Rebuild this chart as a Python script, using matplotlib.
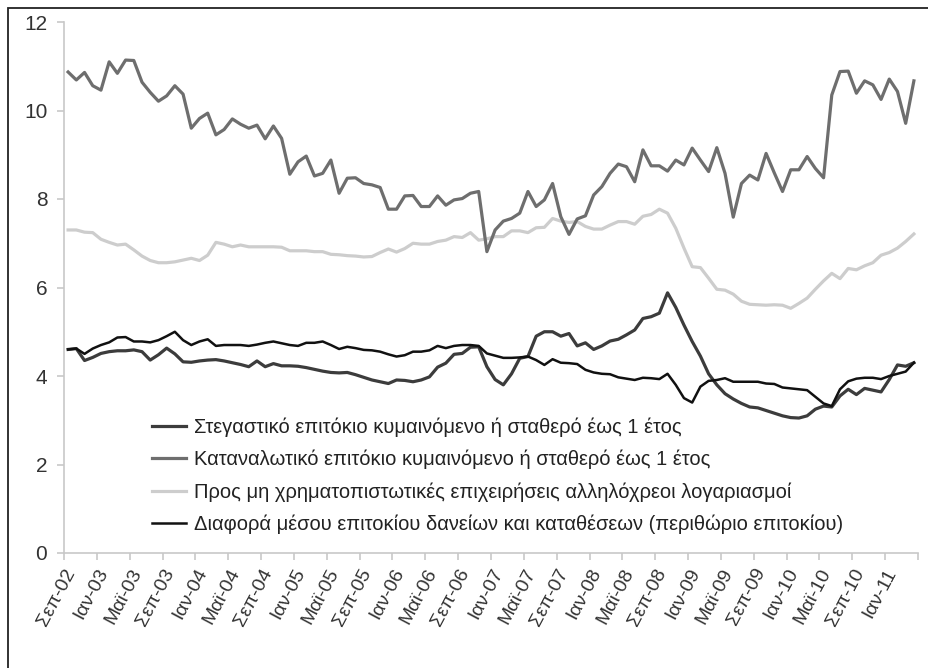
import numpy as np
import matplotlib
matplotlib.use("Agg")
import matplotlib.pyplot as plt
from matplotlib.patches import Rectangle

plt.rcParams["font.family"] = ["Liberation Sans", "DejaVu Sans"]

# μηνιαία στοιχεία Σεπ-02 έως Απρ-11 (104 μήνες)
months = ["Σεπ", "Ιαν", "Μαϊ"]
tick_labels = []
for k in range(26):
    yr = 2 + (k + 2) // 3
    tick_labels.append(f"{months[k % 3]}-{yr:02d}")

consumer = [10.87, 10.69, 10.86, 10.56, 10.46, 11.10, 10.84, 11.14, 11.13, 10.64,
            10.41, 10.21, 10.33, 10.56, 10.37, 9.60, 9.82, 9.94, 9.45, 9.57,
            9.81, 9.69, 9.60, 9.67, 9.36, 9.65, 9.37, 8.56, 8.84, 8.97,
            8.52, 8.58, 8.88, 8.13, 8.47, 8.48, 8.35, 8.32, 8.26, 7.77,
            7.77, 8.07, 8.08, 7.83, 7.83, 8.07, 7.86, 7.98, 8.01, 8.13,
            8.17, 6.81, 7.30, 7.50, 7.56, 7.68, 8.17, 7.83, 7.98, 8.35,
            7.60, 7.20, 7.55, 7.62, 8.09, 8.28, 8.58, 8.79, 8.73, 8.39,
            9.11, 8.75, 8.75, 8.63, 8.88, 8.77, 9.15, 8.88, 8.62, 9.16,
            8.58, 7.59, 8.35, 8.54, 8.43, 9.03, 8.59, 8.17, 8.66, 8.66,
            8.96, 8.69, 8.48, 10.35, 10.88, 10.89, 10.39, 10.67, 10.58, 10.25,
            10.71, 10.43, 9.71, 10.67]

business = [7.30, 7.30, 7.25, 7.24, 7.09, 7.02, 6.96, 6.98, 6.85, 6.71,
            6.61, 6.56, 6.56, 6.58, 6.62, 6.66, 6.61, 6.73, 7.02, 6.98,
            6.92, 6.96, 6.92, 6.92, 6.92, 6.92, 6.91, 6.83, 6.83, 6.83,
            6.81, 6.81, 6.75, 6.74, 6.72, 6.71, 6.69, 6.70, 6.79, 6.87,
            6.80, 6.88, 7.00, 6.98, 6.98, 7.04, 7.07, 7.15, 7.13, 7.24,
            7.07, 7.10, 7.15, 7.15, 7.28, 7.28, 7.24, 7.35, 7.36, 7.56,
            7.50, 7.47, 7.49, 7.38, 7.32, 7.32, 7.41, 7.49, 7.49, 7.43,
            7.61, 7.65, 7.77, 7.68, 7.34, 6.89, 6.47, 6.45, 6.21, 5.96,
            5.94, 5.85, 5.69, 5.62, 5.61, 5.60, 5.61, 5.60, 5.53, 5.64,
            5.76, 5.96, 6.15, 6.32, 6.20, 6.43, 6.40, 6.49, 6.56, 6.73,
            6.79, 6.89, 7.04, 7.21]

housing = [4.60, 4.62, 4.35, 4.42, 4.51, 4.55, 4.57, 4.57, 4.59, 4.55,
           4.36, 4.48, 4.63, 4.50, 4.32, 4.31, 4.34, 4.36, 4.37, 4.34,
           4.30, 4.26, 4.21, 4.34, 4.21, 4.28, 4.23, 4.23, 4.22, 4.19,
           4.15, 4.11, 4.08, 4.07, 4.08, 4.03, 3.97, 3.91, 3.87, 3.83,
           3.91, 3.90, 3.87, 3.91, 3.98, 4.20, 4.29, 4.49, 4.51, 4.65,
           4.66, 4.21, 3.92, 3.80, 4.05, 4.40, 4.44, 4.90, 5.00, 5.00,
           4.90, 4.96, 4.68, 4.75, 4.60, 4.68, 4.79, 4.83, 4.93, 5.04,
           5.30, 5.34, 5.42, 5.88, 5.55, 5.15, 4.78, 4.45, 4.05, 3.80,
           3.60, 3.48, 3.38, 3.30, 3.28, 3.22, 3.16, 3.10, 3.06, 3.05,
           3.10, 3.25, 3.32, 3.30, 3.55, 3.70, 3.58, 3.72, 3.68, 3.64,
           3.92, 4.25, 4.22, 4.30]

spread = [4.60, 4.62, 4.50, 4.62, 4.70, 4.76, 4.87, 4.88, 4.78, 4.78,
          4.76, 4.81, 4.90, 5.00, 4.81, 4.70, 4.78, 4.83, 4.68, 4.70,
          4.70, 4.70, 4.68, 4.71, 4.75, 4.78, 4.74, 4.70, 4.68, 4.75,
          4.75, 4.78, 4.70, 4.61, 4.66, 4.63, 4.59, 4.58, 4.55, 4.49,
          4.44, 4.47, 4.55, 4.55, 4.58, 4.68, 4.63, 4.68, 4.70, 4.70,
          4.68, 4.51, 4.46, 4.41, 4.41, 4.42, 4.44, 4.36, 4.25, 4.38,
          4.30, 4.29, 4.27, 4.14, 4.08, 4.05, 4.04, 3.97, 3.94, 3.91,
          3.96, 3.95, 3.93, 4.05, 3.80, 3.50, 3.40, 3.76, 3.89, 3.91,
          3.95, 3.87, 3.87, 3.87, 3.87, 3.83, 3.82, 3.74, 3.72, 3.70,
          3.68, 3.53, 3.38, 3.32, 3.70, 3.88, 3.94, 3.96, 3.96, 3.93,
          4.00, 4.05, 4.10, 4.30]

labels = [
    "Στεγαστικό επιτόκιο κυμαινόμενο ή σταθερό έως 1 έτος",
    "Καταναλωτικό επιτόκιο κυμαινόμενο ή σταθερό έως 1 έτος",
    "Προς μη χρηματοπιστωτικές επιχειρήσεις αλληλόχρεοι λογαριασμοί",
    "Διαφορά μέσου επιτοκίου δανείων και καταθέσεων (περιθώριο επιτοκίου)",
]

x = np.arange(len(consumer))

fig = plt.figure(figsize=(9.29, 6.68), dpi=100)
ax = fig.add_axes([64 / 929, 1 - 553 / 668, 854 / 929, 531 / 668])

ax.plot(x, housing, color="#3c3c3c", lw=2.3, label=labels[0], zorder=4)
ax.plot(x, consumer, color="#6e6e6e", lw=2.3, label=labels[1], zorder=3)
ax.plot(x, business, color="#cdcdcd", lw=2.3, label=labels[2], zorder=2)
ax.plot(x, spread, color="#111111", lw=1.8, label=labels[3], zorder=5)

ax.set_xlim(-0.5, len(x) - 0.5)
ax.set_ylim(0, 12)
ax.set_yticks(range(0, 13, 2))
ax.set_xticks(np.arange(-0.5, len(x), 4))
ax.set_xticklabels(tick_labels + [""] * (len(ax.get_xticks()) - len(tick_labels)),
                   rotation=62, ha="right", rotation_mode="anchor")

for s in ["top", "right"]:
    ax.spines[s].set_visible(False)
for s in ["left", "bottom"]:
    ax.spines[s].set_color("#c8c8c8")
    ax.spines[s].set_linewidth(1.2)
ax.tick_params(axis="both", colors="#c8c8c8", labelcolor="#333333",
               length=5, width=1.2)
ax.tick_params(axis="x", pad=4, labelsize=14)
ax.tick_params(axis="y", pad=7, labelsize=15)

leg = ax.legend(loc="upper left", bbox_to_anchor=(0.103, 0.255), frameon=False,
                fontsize=14.5, handlelength=1.7, handletextpad=0.4,
                labelspacing=0.64, borderpad=0, borderaxespad=0)
for t in leg.get_texts():
    t.set_color("#222222")

# πλαίσιο γύρω από το διάγραμμα
fig.patches.append(Rectangle((8 / 929, -0.1), 1.2, 1 - 8 / 668 + 0.1,
                             transform=fig.transFigure, fill=False,
                             edgecolor="#222222", lw=1.3))

fig.savefig("out.png", dpi=100)
